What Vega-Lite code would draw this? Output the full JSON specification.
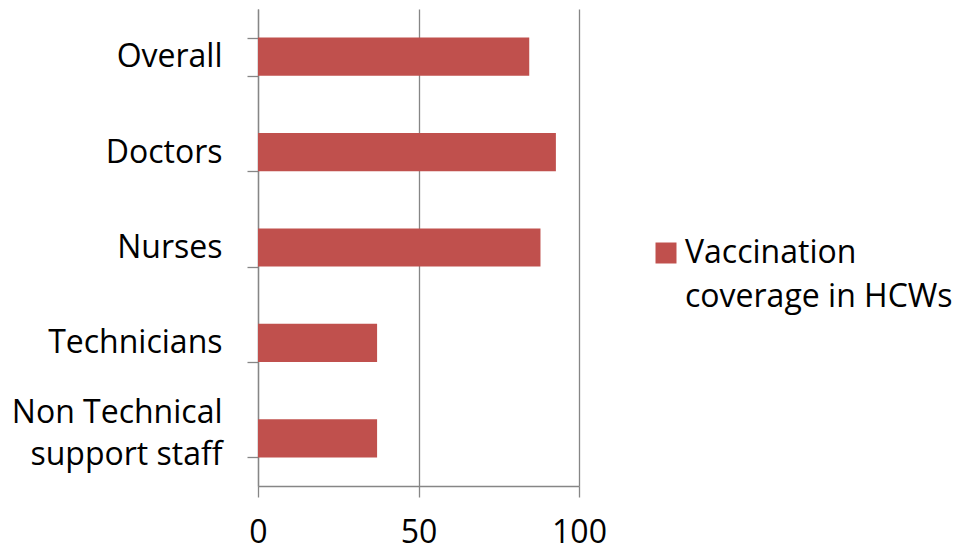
{
  "$schema": "https://vega.github.io/schema/vega-lite/v6.json",
  "autosize": "none",
  "width": 321,
  "height": 477,
  "padding": {"left": 258, "top": 9, "right": 380, "bottom": 66},
  "background": "white",
  "data": {
    "values": [
      {"group": "Overall\u00a0", "value": 84.5, "series": "Vaccination coverage in HCWs"},
      {"group": "Doctors", "value": 92.8, "series": "Vaccination coverage in HCWs"},
      {"group": "Nurses", "value": 88, "series": "Vaccination coverage in HCWs"},
      {"group": "Technicians", "value": 37.1, "series": "Vaccination coverage in HCWs"},
      {"group": "Non Technical support staff", "value": 37.1, "series": "Vaccination coverage in HCWs"}
    ]
  },
  "config": {
    "view": {"stroke": null},
    "font": "Open Sans",
    "style": {"guide-label": {"lineHeight": 44}},
    "axis": {
      "labelFont": "Open Sans",
      "labelFontSize": 32,
      "labelColor": "#000000",
      "domainColor": "#868686",
      "tickColor": "#868686",
      "gridColor": "#868686",
      "domainWidth": 1.3,
      "tickWidth": 1.3,
      "gridWidth": 1.3,
      "gridOpacity": 1,
      "tickSize": 11
    },
    "legend": {"labelFont": "Open Sans", "labelFontSize": 32, "labelColor": "#000000"}
  },
  "mark": {"type": "bar"},
  "encoding": {
    "y": {
      "field": "group",
      "type": "nominal",
      "sort": null,
      "scale": {"paddingInner": 0.6, "paddingOuter": 0.3},
      "axis": {
        "title": null,
        "tickBand": "extent",
        "grid": false,
        "labelPadding": 25,
        "labelLimit": 400,
        "labelLineHeight": 42,
        "labelOffset": {"condition": {"test": "datum.value == 'Non Technical support staff'", "value": -26}, "value": 0},
        "labelExpr": "datum.value == 'Non Technical support staff' ? ['Non Technical', 'support staff'] : datum.value"
      }
    },
    "x": {
      "field": "value",
      "type": "quantitative",
      "scale": {"domain": [0, 100], "nice": false},
      "axis": {
        "title": null,
        "values": [0, 50, 100],
        "grid": true,
        "labelPadding": 20,
        "labelFlush": false
      }
    },
    "color": {
      "field": "series",
      "type": "nominal",
      "scale": {"range": ["#C0504D"]},
      "legend": {
        "title": null,
        "orient": "none",
        "legendX": 392,
        "legendY": 228,
        "symbolType": "square",
        "symbolSize": 441,
        "symbolStrokeWidth": 0,
        "symbolOpacity": 1,
        "labelOffset": 3,
        "labelLimit": 400,
        "labelExpr": "['Vaccination', 'coverage in HCWs']"
      }
    }
  }
}
